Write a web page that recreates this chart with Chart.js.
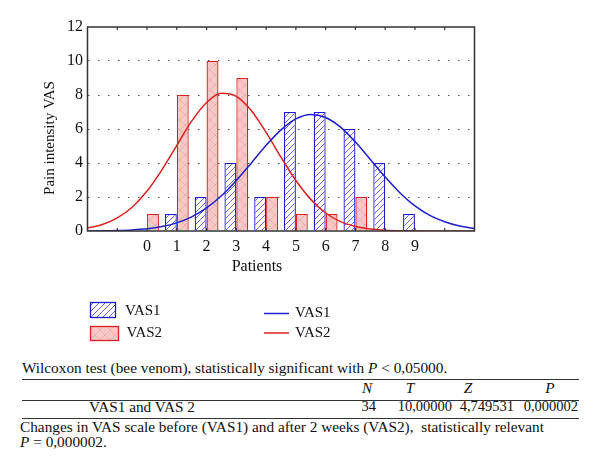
<!DOCTYPE html>
<html>
<head>
<meta charset="utf-8">
<script src="https://cdn.jsdelivr.net/npm/chart.js@4/dist/chart.umd.min.js"></script>
<style>
  html, body { margin: 0; padding: 0; background: #fff; }
  body { width: 600px; height: 474px; position: relative; overflow: hidden; font-family: "Liberation Serif", serif; color: #111; }
  #wrap { position: absolute; left: 0; top: 0; width: 600px; height: 355px; }
  .t { position: absolute; font-size: 15.3px; line-height: 17px; white-space: nowrap; }
  .t.num { font-size: 14.5px; }
  .rule { position: absolute; left: 22px; width: 557px; height: 0; border-top: 1.3px solid #333; }
</style>
</head>
<body>
<div id="wrap"><canvas id="myChart" width="600" height="355"></canvas></div>
<div id="table"></div>
<script>
// data
const patients = [0, 1, 2, 3, 4, 5, 6, 7, 8, 9]
const vas1 = [0, 1, 2, 4, 2, 7, 7, 6, 4, 1]
const vas2 = [1, 8, 10, 9, 2, 1, 1, 2, 0, 0]

// fitted curves, read every half unit
const curveX = [-2, -1.5, -1, -0.5, 0, 0.5, 1, 1.5, 2, 2.5, 3, 3.5, 4, 4.5, 5, 5.5, 6, 6.5, 7, 7.5, 8, 8.5, 9, 9.5, 10, 10.5, 11]
const vas1Curve = [0.005, 0.011, 0.027, 0.062, 0.13, 0.26, 0.48, 0.83, 1.36, 2.07, 2.97, 3.99, 5.04, 5.95, 6.60, 6.86, 6.68, 6.11, 5.23, 4.21, 3.17, 2.24, 1.48, 0.92, 0.54, 0.29, 0.15]
const vas2Curve = [0.17, 0.38, 0.77, 1.40, 2.35, 3.60, 5.04, 6.46, 7.56, 8.10, 7.92, 7.09, 5.80, 4.34, 2.97, 1.86, 1.06, 0.55, 0.27, 0.12, 0.05, 0.02, 0.01, 0, 0, 0, 0]

const yTicks = [0, 2, 4, 6, 8, 10, 12]

// table under the chart
const testTitle = 'Wilcoxon test (bee venom), statistically significant with <i>P</i> &lt; 0,05000.'
const colHeads = ['N', 'T', 'Z', 'P']
const rowLabel = 'VAS1 and VAS 2'
const rowValues = ['34', '10,00000', '4,749531', '0,000002']
const captionLines = ['Changes in VAS scale before (VAS1) and after 2 weeks (VAS2),&nbsp; statistically relevant', '<i>P</i> = 0,000002.']

const BLUE = 'rgb(30,30,205)'
const RED = 'rgb(222,32,32)'
const FONT = '"Liberation Serif", serif'

function hatch (kind) {
  const c = document.createElement('canvas')
  const s = kind === 'blue' ? 6 : 10
  c.width = s
  c.height = s
  const g = c.getContext('2d')
  if (kind === 'blue') {
    g.fillStyle = '#fff'
    g.fillRect(0, 0, s, s)
    g.strokeStyle = 'rgba(40,40,215,0.8)'
    g.lineWidth = 0.9
    g.beginPath()
    g.moveTo(0, s); g.lineTo(s, 0)
    g.moveTo(-1, 1); g.lineTo(1, -1)
    g.moveTo(s - 1, s + 1); g.lineTo(s + 1, s - 1)
    g.stroke()
  } else {
    g.fillStyle = 'rgb(247,200,200)'
    g.fillRect(0, 0, s, s)
    g.strokeStyle = 'rgba(225,80,80,0.28)'
    g.lineWidth = 0.8
    g.beginPath()
    g.moveTo(0, s); g.lineTo(s, 0)
    g.moveTo(0, 0); g.lineTo(s, s)
    g.stroke()
  }
  return g.createPattern(c, 'repeat')
}

const blueFill = hatch('blue')
const redFill = hatch('red')

const extras = {
  id: 'extras',
  afterDraw (chart) {
    const { ctx, chartArea: a, scales: { x } } = chart
    ctx.save()
    // frame
    ctx.strokeStyle = '#333'
    ctx.lineWidth = 1.5
    ctx.strokeRect(a.left, a.top, a.right - a.left, a.bottom - a.top)
    // small inward ticks
    ctx.lineWidth = 1.2
    ctx.beginPath()
    x.ticks.forEach(t => {
      if (t.value <= x.min || t.value >= x.max) return
      const px = x.getPixelForValue(t.value)
      ctx.moveTo(px, a.top); ctx.lineTo(px, a.top + 3)
      ctx.moveTo(px, a.bottom); ctx.lineTo(px, a.bottom - 3)
    })
    ctx.stroke()

    // axis titles
    ctx.fillStyle = '#111'
    ctx.textAlign = 'center'
    ctx.textBaseline = 'middle'
    ctx.font = '16px ' + FONT
    ctx.fillText('Patients', 257, 267)
    ctx.save()
    ctx.translate(50, 138)
    ctx.rotate(-Math.PI / 2)
    ctx.font = '15px ' + FONT
    ctx.fillText('Pain intensity VAS', 0, 0)
    ctx.restore()

    // legend
    ctx.textAlign = 'left'
    ctx.font = '15px ' + FONT
    ctx.lineWidth = 1.3
    ctx.fillStyle = blueFill
    ctx.fillRect(90.5, 302.5, 25, 15)
    ctx.strokeStyle = BLUE
    ctx.strokeRect(90.5, 302.5, 25, 15)
    ctx.fillStyle = redFill
    ctx.fillRect(90.5, 326.5, 28, 14)
    ctx.strokeStyle = RED
    ctx.strokeRect(90.5, 326.5, 28, 14)
    ctx.fillStyle = '#111'
    ctx.fillText('VAS1', 125, 311.5)
    ctx.fillText('VAS2', 126.5, 333.5)

    ctx.lineWidth = 1.5
    ctx.strokeStyle = BLUE
    ctx.beginPath(); ctx.moveTo(264, 313.5); ctx.lineTo(289, 313.5); ctx.stroke()
    ctx.strokeStyle = RED
    ctx.beginPath(); ctx.moveTo(264, 333); ctx.lineTo(289, 333); ctx.stroke()
    ctx.fillText('VAS1', 295, 313.5)
    ctx.fillText('VAS2', 295, 333.5)
    ctx.restore()
  }
}

const ctx = document.getElementById('myChart')
// eslint-disable-next-line no-unused-vars
const myChart = new Chart(ctx, {
  type: 'bar',
  data: {
    datasets: [{
      label: 'VAS1',
      data: patients.map((p, i) => ({ x: p, y: vas1[i] })),
      backgroundColor: blueFill,
      borderColor: BLUE,
      borderWidth: 1.3,
      order: 2
    }, {
      label: 'VAS2',
      data: patients.map((p, i) => ({ x: p, y: vas2[i] })),
      backgroundColor: redFill,
      borderColor: RED,
      borderWidth: 1.3,
      order: 2
    }, {
      type: 'line',
      label: 'VAS1',
      data: curveX.map((v, i) => ({ x: v, y: vas1Curve[i] })),
      borderColor: BLUE,
      borderWidth: 1.5,
      pointRadius: 0,
      fill: false,
      cubicInterpolationMode: 'monotone',
      order: 1
    }, {
      type: 'line',
      label: 'VAS2',
      data: curveX.map((v, i) => ({ x: v, y: vas2Curve[i] })),
      borderColor: RED,
      borderWidth: 1.5,
      pointRadius: 0,
      fill: false,
      cubicInterpolationMode: 'monotone',
      order: 1
    }]
  },
  options: {
    responsive: false,
    animation: false,
    categoryPercentage: 0.8,
    barPercentage: 1.0,
    layout: { padding: { top: 27, left: 37, right: 125.5, bottom: 0 } },
    plugins: {
      legend: { display: false },
      tooltip: { enabled: false }
    },
    scales: {
      x: {
        type: 'linear',
        min: -2,
        max: 11,
        offset: false,
        grid: { display: false, offset: false, drawTicks: false },
        border: { display: false },
        ticks: {
          stepSize: 1,
          autoSkip: false,
          maxRotation: 0,
          padding: 6,
          color: '#111',
          font: { family: FONT, size: 16 },
          callback: v => patients.includes(v) ? String(v) : ''
        },
        afterFit: s => { s.height = 124 }
      },
      y: {
        min: yTicks[0],
        max: yTicks[yTicks.length - 1],
        grid: {
          drawTicks: false,
          lineWidth: 1,
          color: c => (c.tick && (c.tick.value === yTicks[0] || c.tick.value === yTicks[yTicks.length - 1])) ? 'transparent' : '#555'
        },
        border: { display: false, dash: [1.5, 8.5] },
        ticks: {
          stepSize: 2,
          padding: 4.5,
          color: '#111',
          font: { family: FONT, size: 16 }
        },
        afterFit: s => { s.width = 50.5 }
      }
    }
  },
  plugins: [extras]
})

// table
const box = document.getElementById('table')
function put (html, left, baseline, align, width, cls) {
  const d = document.createElement('div')
  d.className = 't' + (cls ? ' ' + cls : '')
  d.innerHTML = html
  d.style.top = (baseline - 13.7) + 'px'
  if (align === 'right') {
    d.style.left = (left - width) + 'px'
    d.style.width = width + 'px'
    d.style.textAlign = 'right'
  } else if (align === 'center') {
    d.style.left = (left - width / 2) + 'px'
    d.style.width = width + 'px'
    d.style.textAlign = 'center'
  } else {
    d.style.left = left + 'px'
  }
  box.appendChild(d)
}
function rule (y) {
  const r = document.createElement('div')
  r.className = 'rule'
  r.style.top = y + 'px'
  box.appendChild(r)
}
put(testTitle, 22, 373)
rule(379)
const headCenters = [367, 410, 468, 550]
colHeads.forEach((h, i) => put('<i>' + h + '</i>', headCenters[i], 393, 'center', 40))
rule(399.5)
put(rowLabel, 142, 412, 'center', 160)
const valueRights = [376, 452, 514, 578]
rowValues.forEach((v, i) => put(v, valueRights[i], 412, 'right', 80, 'num'))
rule(417.5)
put(captionLines[0], 20, 432)
put(captionLines[1], 20, 447)
</script>
</body>
</html>
